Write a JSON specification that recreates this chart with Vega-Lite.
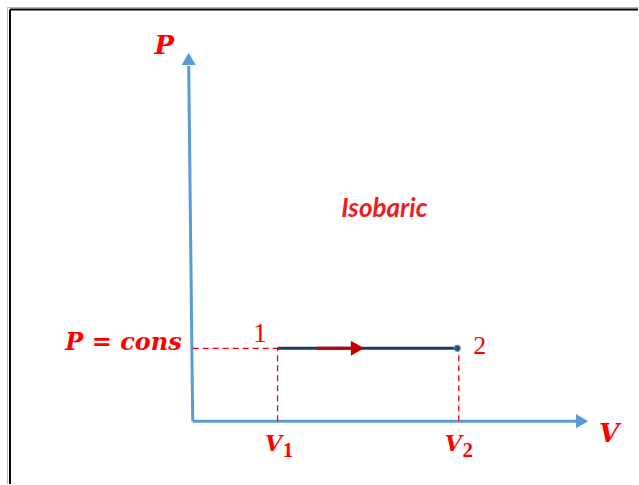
{
  "$schema": "https://vega.github.io/schema/vega-lite/v6.json",
  "width": 639,
  "height": 485,
  "autosize": {"type": "fit", "contains": "padding"},
  "padding": 0,
  "background": "white",
  "config": {"view": {"stroke": null}},
  "datasets": {
    "segs": [
      {"kind": "frameGray", "x": -18.55, "y": -6.3, "x2": -18.55, "y2": 41.45},
      {"kind": "frameGray", "x": -18.55, "y": 41.45, "x2": 44.6, "y2": 41.45},
      {"kind": "frame", "x": -18.3, "y": -6.3, "x2": -18.3, "y2": 41.25},
      {"kind": "frame", "x": -18.3, "y": 41.25, "x2": 44.6, "y2": 41.25},
      {"kind": "axis", "x": 0, "y": 0, "x2": 38.6, "y2": 0},
      {"kind": "axis", "x": 0, "y": 0, "x2": -0.4, "y2": 35.6},
      {"kind": "guide", "x": 0, "y": 7.3, "x2": 8.5, "y2": 7.3},
      {"kind": "guide", "x": 8.5, "y": 0, "x2": 8.5, "y2": 7.3},
      {"kind": "guide", "x": 26.65, "y": 0, "x2": 26.65, "y2": 7.3},
      {"kind": "process", "x": 8.5, "y": 7.3, "x2": 26.5, "y2": 7.3},
      {"kind": "arrow", "x": 12.4, "y": 7.3, "x2": 16.0, "y2": 7.3}
    ],
    "heads": [
      {"kind": "right", "x": 39.0, "y": 0},
      {"kind": "up", "x": -0.4, "y": 36.3},
      {"kind": "red", "x": 16.5, "y": 7.3},
      {"kind": "dot", "x": 26.5, "y": 7.3}
    ],
    "labels": [
      {"role": "var", "x": -2.85, "y": 36.8, "text": "P"},
      {"role": "var", "x": 41.7, "y": -2.1, "text": "V"},
      {"role": "pcons", "x": -1.1, "y": 7.1, "text": "P = cons"},
      {"role": "vsub", "x": 8.1, "y": -3.0, "text": "V"},
      {"role": "vsub", "x": 26.1, "y": -3.0, "text": "V"},
      {"role": "sub", "x": 9.55, "y": -3.6, "text": "1"},
      {"role": "sub", "x": 27.55, "y": -3.6, "text": "2"},
      {"role": "state1", "x": 6.75, "y": 7.9, "text": "1"},
      {"role": "state2", "x": 28.75, "y": 6.7, "text": "2"},
      {"role": "title", "x": 19.2, "y": 20.5, "text": "Isobaric"}
    ]
  },
  "layer": [
    {
      "data": {"name": "segs"},
      "transform": [{"filter": "datum.kind === 'frameGray'"}],
      "mark": {"type": "rule", "color": "#b8b8b8", "strokeWidth": 1},
      "encoding": {
        "x": {"field": "x", "type": "quantitative", "scale": {"domain": [-19.3, 44.6], "nice": false, "zero": false}, "axis": null},
        "y": {"field": "y", "type": "quantitative", "scale": {"domain": [-6.3, 42.2], "nice": false, "zero": false}, "axis": null},
        "x2": {"field": "x2"},
        "y2": {"field": "y2"}
      }
    },
    {
      "data": {"name": "segs"},
      "transform": [{"filter": "datum.kind === 'frame'"}],
      "mark": {"type": "rule", "color": "#000000", "strokeWidth": 2},
      "encoding": {
        "x": {"field": "x", "type": "quantitative", "scale": {"domain": [-19.3, 44.6], "nice": false, "zero": false}, "axis": null},
        "y": {"field": "y", "type": "quantitative", "scale": {"domain": [-6.3, 42.2], "nice": false, "zero": false}, "axis": null},
        "x2": {"field": "x2"},
        "y2": {"field": "y2"}
      }
    },
    {
      "data": {"name": "segs"},
      "transform": [{"filter": "datum.kind === 'axis'"}],
      "mark": {"type": "rule", "color": "#5b9bd5", "strokeWidth": 3},
      "encoding": {
        "x": {"field": "x", "type": "quantitative", "scale": {"domain": [-19.3, 44.6], "nice": false, "zero": false}, "axis": null},
        "y": {"field": "y", "type": "quantitative", "scale": {"domain": [-6.3, 42.2], "nice": false, "zero": false}, "axis": null},
        "x2": {"field": "x2"},
        "y2": {"field": "y2"}
      }
    },
    {
      "data": {"name": "segs"},
      "transform": [{"filter": "datum.kind === 'guide'"}],
      "mark": {"type": "rule", "color": "#ff0000", "strokeWidth": 1.3, "strokeDash": [6, 4]},
      "encoding": {
        "x": {"field": "x", "type": "quantitative", "scale": {"domain": [-19.3, 44.6], "nice": false, "zero": false}, "axis": null},
        "y": {"field": "y", "type": "quantitative", "scale": {"domain": [-6.3, 42.2], "nice": false, "zero": false}, "axis": null},
        "x2": {"field": "x2"},
        "y2": {"field": "y2"}
      }
    },
    {
      "data": {"name": "segs"},
      "transform": [{"filter": "datum.kind === 'process'"}],
      "mark": {"type": "rule", "color": "#1f3864", "strokeWidth": 3},
      "encoding": {
        "x": {"field": "x", "type": "quantitative", "scale": {"domain": [-19.3, 44.6], "nice": false, "zero": false}, "axis": null},
        "y": {"field": "y", "type": "quantitative", "scale": {"domain": [-6.3, 42.2], "nice": false, "zero": false}, "axis": null},
        "x2": {"field": "x2"},
        "y2": {"field": "y2"}
      }
    },
    {
      "data": {"name": "segs"},
      "transform": [{"filter": "datum.kind === 'arrow'"}],
      "mark": {"type": "rule", "color": "#c00000", "strokeWidth": 3},
      "encoding": {
        "x": {"field": "x", "type": "quantitative", "scale": {"domain": [-19.3, 44.6], "nice": false, "zero": false}, "axis": null},
        "y": {"field": "y", "type": "quantitative", "scale": {"domain": [-6.3, 42.2], "nice": false, "zero": false}, "axis": null},
        "x2": {"field": "x2"},
        "y2": {"field": "y2"}
      }
    },
    {
      "data": {"name": "heads"},
      "transform": [{"filter": "datum.kind === 'right'"}],
      "mark": {"type": "point", "shape": "triangle-right", "filled": true, "color": "#5b9bd5", "size": 200, "opacity": 1},
      "encoding": {
        "x": {"field": "x", "type": "quantitative", "scale": {"domain": [-19.3, 44.6], "nice": false, "zero": false}, "axis": null},
        "y": {"field": "y", "type": "quantitative", "scale": {"domain": [-6.3, 42.2], "nice": false, "zero": false}, "axis": null}
      }
    },
    {
      "data": {"name": "heads"},
      "transform": [{"filter": "datum.kind === 'up'"}],
      "mark": {"type": "point", "shape": "triangle-up", "filled": true, "color": "#5b9bd5", "size": 200, "opacity": 1},
      "encoding": {
        "x": {"field": "x", "type": "quantitative", "scale": {"domain": [-19.3, 44.6], "nice": false, "zero": false}, "axis": null},
        "y": {"field": "y", "type": "quantitative", "scale": {"domain": [-6.3, 42.2], "nice": false, "zero": false}, "axis": null}
      }
    },
    {
      "data": {"name": "heads"},
      "transform": [{"filter": "datum.kind === 'red'"}],
      "mark": {"type": "point", "shape": "triangle-right", "filled": true, "color": "#c00000", "size": 230, "opacity": 1},
      "encoding": {
        "x": {"field": "x", "type": "quantitative", "scale": {"domain": [-19.3, 44.6], "nice": false, "zero": false}, "axis": null},
        "y": {"field": "y", "type": "quantitative", "scale": {"domain": [-6.3, 42.2], "nice": false, "zero": false}, "axis": null}
      }
    },
    {
      "data": {"name": "heads"},
      "transform": [{"filter": "datum.kind === 'dot'"}],
      "mark": {"type": "point", "shape": "circle", "filled": true, "fill": "#2e4a7a", "stroke": "#5b9bd5", "strokeWidth": 1, "size": 40, "opacity": 1},
      "encoding": {
        "x": {"field": "x", "type": "quantitative", "scale": {"domain": [-19.3, 44.6], "nice": false, "zero": false}, "axis": null},
        "y": {"field": "y", "type": "quantitative", "scale": {"domain": [-6.3, 42.2], "nice": false, "zero": false}, "axis": null}
      }
    },
    {
      "data": {"name": "labels"},
      "transform": [{"filter": "datum.role === 'var'"}],
      "mark": {"type": "text", "font": "DejaVu Serif", "fontStyle": "italic", "fontWeight": "bold", "fontSize": 26, "color": "#ff0000", "align": "center", "baseline": "alphabetic"},
      "encoding": {
        "x": {"field": "x", "type": "quantitative", "scale": {"domain": [-19.3, 44.6], "nice": false, "zero": false}, "axis": null},
        "y": {"field": "y", "type": "quantitative", "scale": {"domain": [-6.3, 42.2], "nice": false, "zero": false}, "axis": null},
        "text": {"field": "text"}
      }
    },
    {
      "data": {"name": "labels"},
      "transform": [{"filter": "datum.role === 'pcons'"}],
      "mark": {"type": "text", "font": "DejaVu Serif", "fontStyle": "italic", "fontWeight": "bold", "fontSize": 24, "color": "#ff0000", "align": "right", "baseline": "alphabetic"},
      "encoding": {
        "x": {"field": "x", "type": "quantitative", "scale": {"domain": [-19.3, 44.6], "nice": false, "zero": false}, "axis": null},
        "y": {"field": "y", "type": "quantitative", "scale": {"domain": [-6.3, 42.2], "nice": false, "zero": false}, "axis": null},
        "text": {"field": "text"}
      }
    },
    {
      "data": {"name": "labels"},
      "transform": [{"filter": "datum.role === 'vsub'"}],
      "mark": {"type": "text", "font": "DejaVu Serif", "fontStyle": "italic", "fontWeight": "bold", "fontSize": 22, "color": "#ff0000", "align": "center", "baseline": "alphabetic"},
      "encoding": {
        "x": {"field": "x", "type": "quantitative", "scale": {"domain": [-19.3, 44.6], "nice": false, "zero": false}, "axis": null},
        "y": {"field": "y", "type": "quantitative", "scale": {"domain": [-6.3, 42.2], "nice": false, "zero": false}, "axis": null},
        "text": {"field": "text"}
      }
    },
    {
      "data": {"name": "labels"},
      "transform": [{"filter": "datum.role === 'sub'"}],
      "mark": {"type": "text", "font": "Liberation Serif", "fontWeight": "bold", "fontSize": 21, "color": "#ff0000", "align": "center", "baseline": "alphabetic"},
      "encoding": {
        "x": {"field": "x", "type": "quantitative", "scale": {"domain": [-19.3, 44.6], "nice": false, "zero": false}, "axis": null},
        "y": {"field": "y", "type": "quantitative", "scale": {"domain": [-6.3, 42.2], "nice": false, "zero": false}, "axis": null},
        "text": {"field": "text"}
      }
    },
    {
      "data": {"name": "labels"},
      "transform": [{"filter": "datum.role === 'state1'"}],
      "mark": {"type": "text", "font": "Liberation Serif", "fontSize": 27, "color": "#ff0000", "align": "center", "baseline": "alphabetic"},
      "encoding": {
        "x": {"field": "x", "type": "quantitative", "scale": {"domain": [-19.3, 44.6], "nice": false, "zero": false}, "axis": null},
        "y": {"field": "y", "type": "quantitative", "scale": {"domain": [-6.3, 42.2], "nice": false, "zero": false}, "axis": null},
        "text": {"field": "text"}
      }
    },
    {
      "data": {"name": "labels"},
      "transform": [{"filter": "datum.role === 'state2'"}],
      "mark": {"type": "text", "font": "Liberation Serif", "fontSize": 26, "color": "#ff0000", "align": "center", "baseline": "alphabetic"},
      "encoding": {
        "x": {"field": "x", "type": "quantitative", "scale": {"domain": [-19.3, 44.6], "nice": false, "zero": false}, "axis": null},
        "y": {"field": "y", "type": "quantitative", "scale": {"domain": [-6.3, 42.2], "nice": false, "zero": false}, "axis": null},
        "text": {"field": "text"}
      }
    },
    {
      "data": {"name": "labels"},
      "transform": [{"filter": "datum.role === 'title'"}],
      "mark": {"type": "text", "font": "Lato", "fontStyle": "italic", "fontWeight": "bold", "fontSize": 26, "color": "#ee1c25", "align": "center", "baseline": "alphabetic"},
      "encoding": {
        "x": {"field": "x", "type": "quantitative", "scale": {"domain": [-19.3, 44.6], "nice": false, "zero": false}, "axis": null},
        "y": {"field": "y", "type": "quantitative", "scale": {"domain": [-6.3, 42.2], "nice": false, "zero": false}, "axis": null},
        "text": {"field": "text"}
      }
    }
  ]
}
